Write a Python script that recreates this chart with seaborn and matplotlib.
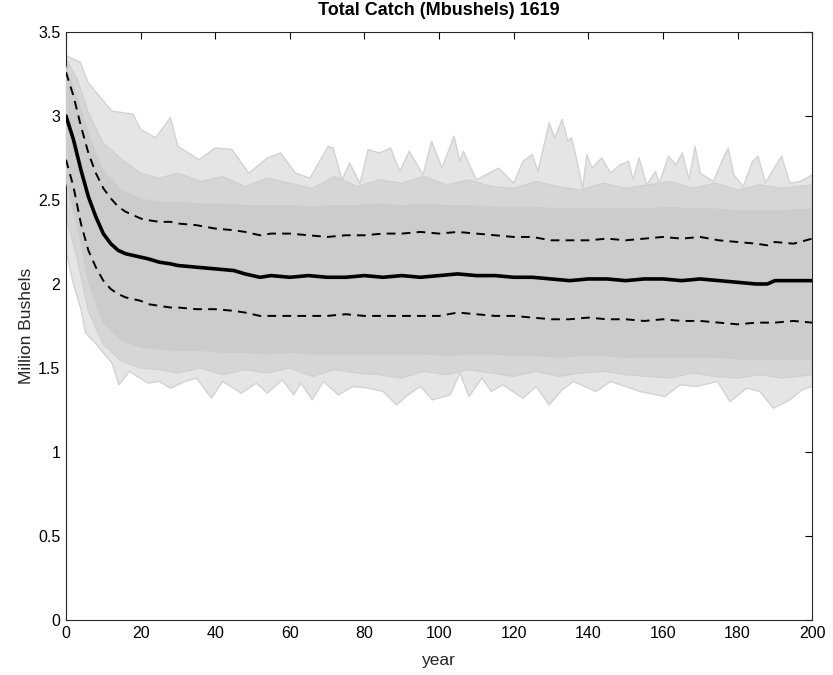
import numpy as np
import pandas as pd
import matplotlib
matplotlib.use("Agg")
import matplotlib.pyplot as plt
import seaborn as sns

# Median and 5/95 % bands of simulated total catch (million bushels)
years_c = [0, 2, 4, 6, 8, 10, 12, 14, 16, 18, 20, 22, 25, 28, 30, 35, 40, 45, 48, 50,
           52, 55, 60, 65, 70, 75, 80, 85, 90, 95, 100, 105, 110, 115, 120, 125,
           130, 135, 140, 145, 150, 155, 160, 165, 170, 175, 180, 185, 188, 190, 195, 200]
median = [3.00, 2.86, 2.68, 2.52, 2.40, 2.30, 2.24, 2.20, 2.18, 2.17, 2.16, 2.15, 2.13, 2.12,
          2.11, 2.10, 2.09, 2.08, 2.06, 2.05, 2.04, 2.05, 2.04, 2.05, 2.04, 2.04, 2.05, 2.04,
          2.05, 2.04, 2.05, 2.06, 2.05, 2.05, 2.04, 2.04, 2.03, 2.02, 2.03, 2.03, 2.02, 2.03,
          2.03, 2.02, 2.03, 2.02, 2.01, 2.00, 2.00, 2.02, 2.02, 2.02]
upper_q = [3.26, 3.12, 2.94, 2.78, 2.66, 2.57, 2.51, 2.46, 2.43, 2.41, 2.39, 2.38, 2.37, 2.37,
           2.36, 2.35, 2.33, 2.32, 2.31, 2.30, 2.29, 2.30, 2.30, 2.29, 2.28, 2.29, 2.29, 2.30,
           2.30, 2.31, 2.30, 2.31, 2.30, 2.29, 2.28, 2.28, 2.26, 2.26, 2.26, 2.27, 2.26, 2.27,
           2.28, 2.27, 2.28, 2.26, 2.25, 2.24, 2.23, 2.25, 2.24, 2.27]
lower_q = [2.74, 2.58, 2.36, 2.20, 2.10, 2.02, 1.97, 1.94, 1.92, 1.91, 1.90, 1.88, 1.87, 1.86,
           1.86, 1.85, 1.85, 1.84, 1.83, 1.82, 1.81, 1.81, 1.81, 1.81, 1.81, 1.82, 1.81, 1.81,
           1.81, 1.81, 1.81, 1.83, 1.82, 1.81, 1.81, 1.80, 1.79, 1.79, 1.80, 1.79, 1.79, 1.78,
           1.79, 1.78, 1.78, 1.77, 1.76, 1.77, 1.77, 1.77, 1.78, 1.77]

# Outer envelope of all simulation runs
env_hi_x = [0, 3.8, 5.9, 9.6, 12.3, 18, 20, 24, 28, 30, 35.7, 40, 44.5, 49, 54, 57.5, 61.5,
            65.4, 70.3, 71.6, 74, 76, 78.8, 81, 84, 87, 89.5, 92, 95.7, 98, 100.8, 104, 105.6,
            106.5, 110, 116, 120, 122.5, 125, 126.5, 129.5, 131, 133, 134.5, 135.5, 137, 138.5,
            139.6, 141, 143.6, 146, 148.6, 150.8, 152, 153.6, 155.7, 158, 159, 161.5, 163.5,
            165.2, 167, 168.6, 170, 173.5, 176, 177.5, 179, 181.5, 184, 185.5, 187.5, 189,
            191.8, 194, 196.8, 200]
env_hi = [3.36, 3.32, 3.20, 3.10, 3.03, 3.01, 2.92, 2.87, 2.99, 2.82, 2.74, 2.81, 2.80, 2.66,
          2.75, 2.78, 2.66, 2.63, 2.82, 2.81, 2.62, 2.72, 2.60, 2.80, 2.78, 2.81, 2.67, 2.79,
          2.65, 2.85, 2.69, 2.88, 2.73, 2.79, 2.62, 2.69, 2.60, 2.73, 2.77, 2.67, 2.96, 2.87,
          2.98, 2.85, 2.87, 2.73, 2.57, 2.77, 2.69, 2.75, 2.66, 2.71, 2.73, 2.62, 2.75, 2.59,
          2.67, 2.60, 2.76, 2.71, 2.78, 2.62, 2.82, 2.66, 2.61, 2.74, 2.81, 2.65, 2.58, 2.73,
          2.76, 2.60, 2.66, 2.76, 2.60, 2.61, 2.65]
env_lo_x = [0, 2, 4, 5.2, 7.8, 12.3, 14.2, 17, 22, 25, 28, 32, 35, 39, 42, 47, 51, 54, 58, 61,
            63, 66, 69, 73, 77, 81, 85, 88.6, 91.7, 95, 98.2, 103, 105.6, 108, 111.5, 114, 117,
            122.5, 126, 129.5, 133, 136, 142, 146, 153.8, 160.5, 164.6, 169, 174.6, 178, 182.5,
            186, 189.6, 194, 197.3, 200]
env_lo = [2.20, 2.00, 1.85, 1.71, 1.65, 1.53, 1.40, 1.48, 1.41, 1.42, 1.38, 1.42, 1.44, 1.32,
          1.42, 1.35, 1.41, 1.35, 1.43, 1.34, 1.41, 1.31, 1.42, 1.34, 1.39, 1.38, 1.36, 1.28,
          1.34, 1.39, 1.31, 1.34, 1.47, 1.33, 1.44, 1.36, 1.40, 1.32, 1.39, 1.28, 1.37, 1.42,
          1.36, 1.42, 1.36, 1.33, 1.40, 1.39, 1.42, 1.30, 1.38, 1.36, 1.26, 1.31, 1.37, 1.39]

# Where most runs overlap
mid_x = [0, 3, 6, 10, 15, 20, 25, 30, 36, 42, 48, 54, 60, 66, 72, 78, 84, 90, 96, 102, 108,
         114, 120, 126, 132, 138, 144, 150, 156, 162, 168, 174, 180, 186, 192, 200]
mid_hi = [3.34, 3.22, 3.02, 2.84, 2.74, 2.66, 2.63, 2.66, 2.61, 2.64, 2.58, 2.63, 2.60, 2.57,
          2.64, 2.58, 2.62, 2.60, 2.64, 2.59, 2.62, 2.58, 2.57, 2.61, 2.58, 2.56, 2.60, 2.57,
          2.59, 2.61, 2.57, 2.60, 2.56, 2.59, 2.57, 2.59]
mid_lo = [2.40, 2.15, 1.84, 1.64, 1.54, 1.50, 1.49, 1.47, 1.50, 1.46, 1.49, 1.47, 1.50, 1.45,
          1.49, 1.47, 1.46, 1.44, 1.48, 1.46, 1.49, 1.47, 1.45, 1.48, 1.45, 1.47, 1.48, 1.46,
          1.45, 1.44, 1.47, 1.45, 1.44, 1.46, 1.44, 1.46]
core_hi = [3.30, 3.12, 2.90, 2.68, 2.56, 2.51, 2.49, 2.49, 2.48, 2.48, 2.47, 2.47, 2.47, 2.46,
           2.47, 2.47, 2.48, 2.47, 2.48, 2.47, 2.47, 2.46, 2.46, 2.46, 2.45, 2.45, 2.45, 2.45,
           2.45, 2.46, 2.45, 2.45, 2.44, 2.44, 2.44, 2.45]
core_lo = [2.60, 2.34, 2.00, 1.76, 1.66, 1.62, 1.61, 1.60, 1.60, 1.59, 1.59, 1.58, 1.59, 1.58,
           1.58, 1.58, 1.58, 1.58, 1.58, 1.57, 1.58, 1.58, 1.57, 1.57, 1.56, 1.57, 1.57, 1.56,
           1.56, 1.56, 1.56, 1.56, 1.55, 1.55, 1.55, 1.55]

x_ticks = [0, 20, 40, 60, 80, 100, 120, 140, 160, 180, 200]
y_ticks = [0, 0.5, 1, 1.5, 2, 2.5, 3, 3.5]
y_ticklabels = ["0", "0.5", "1", "1.5", "2", "2.5", "3", "3.5"]

sns.set_theme(style="white")
plt.rcParams["font.family"] = ["Liberation Sans", "DejaVu Sans"]

fig = plt.figure(figsize=(8.33, 6.75), dpi=100)
ax = fig.add_axes([0.0792, 0.0815, 0.8958, 0.8711])


def band(xs, hi, lo, color, z, edge=None):
    px = np.r_[xs, xs[::-1]]
    py = np.r_[hi, lo[::-1]]
    ax.fill(px, py, color=color, lw=0, zorder=z)
    if edge is not None:
        ax.plot(xs, hi, color=edge, lw=0.9, zorder=z + 0.1)
        ax.plot(xs, lo, color=edge, lw=0.9, zorder=z + 0.1)


# simulation cloud: sparse outer fringe, mid band, dense core
ex = np.r_[env_hi_x, env_lo_x[::-1]]
ey = np.r_[env_hi, env_lo[::-1]]
ax.fill(ex, ey, color="#e5e5e5", lw=0, zorder=1)
ax.plot(env_hi_x, env_hi, color="#d3d3d3", lw=1.0, zorder=1.1)
ax.plot(env_lo_x, env_lo, color="#d3d3d3", lw=1.0, zorder=1.1)
band(np.array(mid_x), np.array(mid_hi), np.array(mid_lo), "#d6d6d6", 2, edge="#d0d0d0")
band(np.array(mid_x), np.array(core_hi), np.array(core_lo), "#cccccc", 3)

stats = pd.DataFrame({
    "year": years_c * 3,
    "value": median + upper_q + lower_q,
    "stat": ["median"] * len(years_c) + ["upper"] * len(years_c) + ["lower"] * len(years_c),
})

sns.lineplot(data=stats[stats.stat == "upper"], x="year", y="value", ax=ax,
             color="black", lw=1.4, zorder=5)
sns.lineplot(data=stats[stats.stat == "lower"], x="year", y="value", ax=ax,
             color="black", lw=1.4, zorder=5)
for ln in ax.lines[-2:]:
    ln.set_dashes([4.5, 3.2])
sns.lineplot(data=stats[stats.stat == "median"], x="year", y="value", ax=ax,
             color="black", lw=2.6, zorder=6)

ax.set_xlim(0, 200)
ax.set_ylim(0, 3.5)
ax.set_xticks(x_ticks)
ax.set_yticks(y_ticks)
ax.set_yticklabels(y_ticklabels)
ax.tick_params(direction="in", length=5, width=0.8, colors="black",
               top=True, right=True, labelsize=11.5, pad=4)
for sp in ax.spines.values():
    sp.set_color("#262626")
    sp.set_linewidth(0.8)
    sp.set_visible(True)
ax.set_xlabel("year", fontsize=12.5, color="#262626", labelpad=9)
ax.set_ylabel("Million Bushels", fontsize=12.5, color="#262626", labelpad=3)
ax.set_title("Total Catch (Mbushels) 1619", fontsize=13, fontweight="bold",
             color="black", pad=12)

fig.savefig("out.png", dpi=100)
